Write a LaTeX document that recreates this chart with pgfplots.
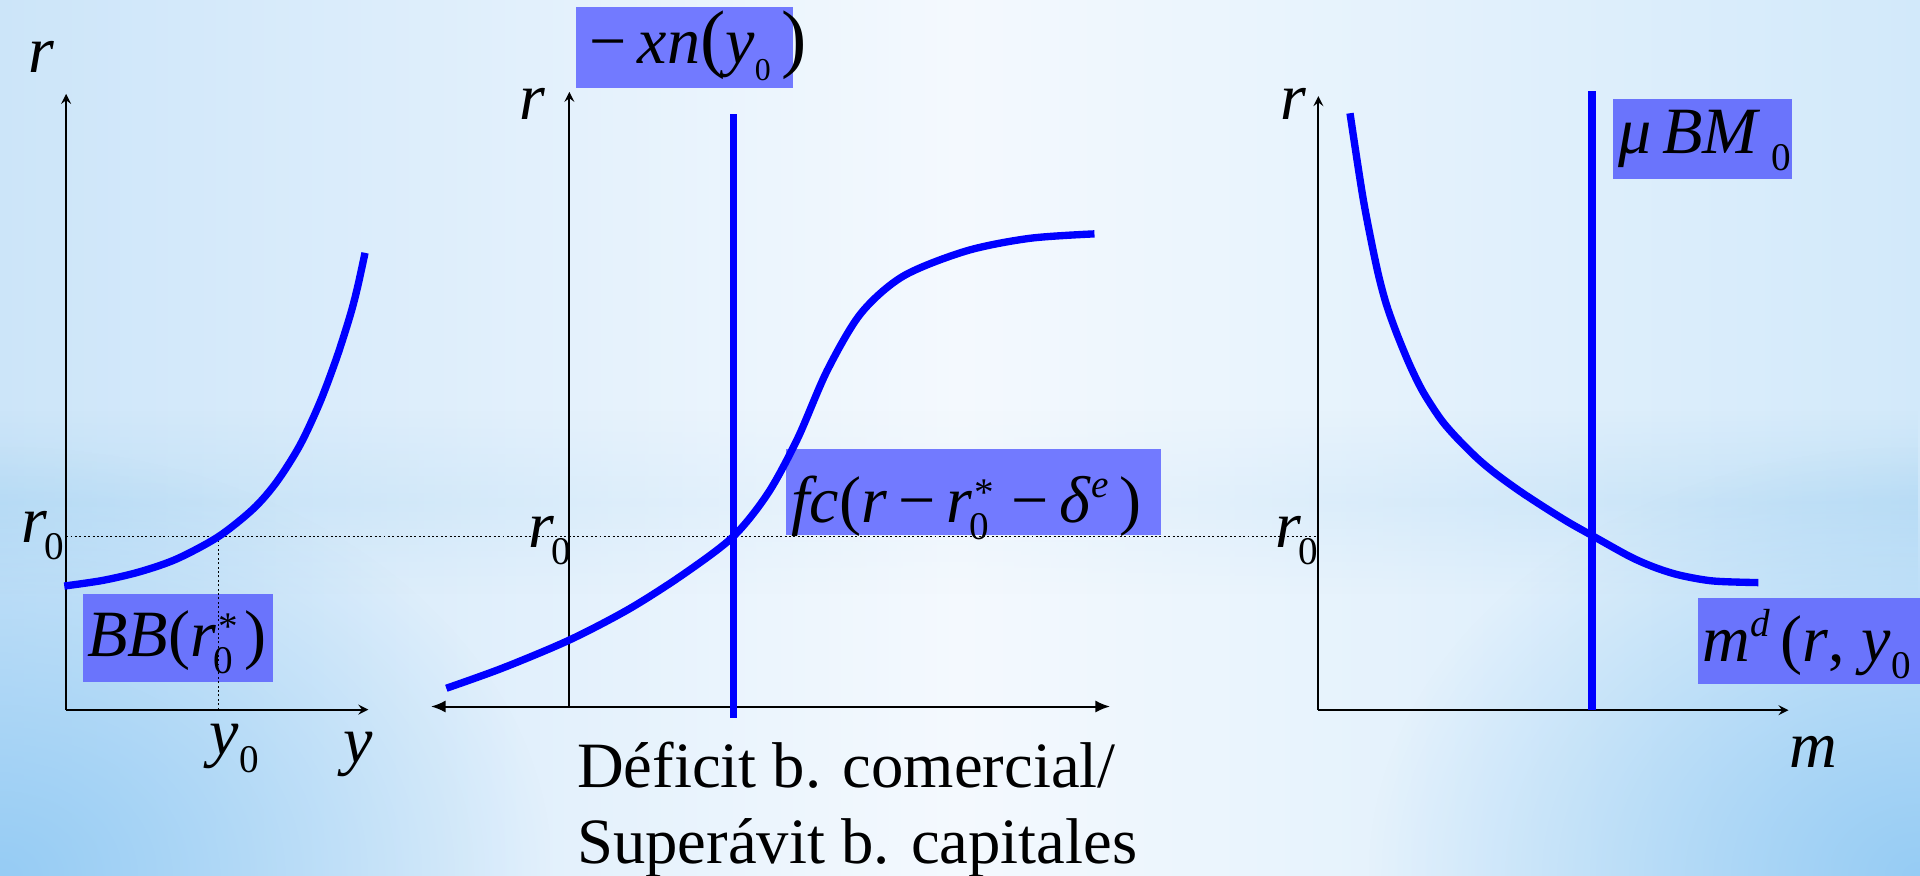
\documentclass[border=0pt]{standalone}
\usepackage{fontspec}
\setmainfont{Liberation Serif}
\usepackage{pgfplots}
\pgfplotsset{compat=1.18}
\usetikzlibrary{arrows.meta,fadings}

\definecolor{boxblue}{RGB}{114,122,255}
\definecolor{boxblueb}{RGB}{106,116,252}
\definecolor{curve}{RGB}{0,0,255}
\definecolor{bgL}{RGB}{204,229,249}
\definecolor{bgM}{RGB}{244,249,254}
\definecolor{bgR}{RGB}{210,233,250}
\definecolor{bgC}{RGB}{150,204,244}
\definecolor{bandL}{RGB}{182,219,245}
\definecolor{bandM}{RGB}{236,245,253}

\tikzfading[name=radfade, inner color=transparent!0, outer color=transparent!100]
\tikzfading[name=vband, top color=transparent!100, bottom color=transparent!100, middle color=transparent!30]

\newcommand{\LS}{\fontsize{27}{30}\selectfont}
\newcommand{\V}[1]{\textit{#1}}
\newcommand{\zs}{\raisebox{-7pt}{\fontsize{16}{16}\selectfont 0}}
\newcommand{\zsm}{\raisebox{-7pt}{\fontsize{13}{13}\selectfont 0}}
\newcommand{\st}{\rlap{\hspace{2pt}\raisebox{7pt}{\fontsize{16}{16}\selectfont *}}}
\newcommand{\spr}[1]{\raisebox{10pt}{\fontsize{16}{16}\selectfont\itshape #1}}
\newcommand{\bp}[1]{{\fontsize{31}{31}\selectfont #1}}

\pgfplotsset{diag/.style={scale only axis, clip=false, xtick=\empty, ytick=\empty,
  anchor=south west, axis line style={line width=0.8pt},
  x axis line style={-{Latex[length=6pt,width=5pt]}},
  y axis line style={-{Latex[length=6pt,width=5pt]}}}}

\begin{document}
\begin{tikzpicture}
\path[use as bounding box] (0,0) rectangle (784pt,357.5pt);
\clip (0,0) rectangle (784pt,357.5pt);
\begin{scope}[x=0.5pt,y=0.5pt]
% background
\shade[left color=bgL, right color=bgR, middle color=bgM] (0,0) rectangle (1568,715);
\shade[left color=bandL, right color=bandL, middle color=bandM, path fading=vband] (0,230) rectangle (1568,380);
\fill[bgC, path fading=radfade] (-450,-350) rectangle (450,350);
\fill[bgC, path fading=radfade] (1118,-350) rectangle (2018,350);
% boxes
\fill[boxblueb] (68,158) rectangle (223,230);
\fill[boxblue] (470,643) rectangle (648,709);
\fill[boxblue] (642,278) rectangle (948,348);
\fill[boxblueb] (1317,569) rectangle (1463.5,634);
\fill[boxblueb] (1386.6,156) rectangle (1640,227);
\end{scope}

% Panel 1
\begin{axis}[diag, at={(27pt,67.75pt)}, width=123.4pt, height=251.4pt,
  xmin=0, xmax=246.8, ymin=0, ymax=502.8, axis lines=left]
\addplot[black, line width=0.6pt, dash pattern=on 0.8pt off 1pt] coordinates {(0,141.5) (1022.7,141.5)};
\addplot[black, line width=0.6pt, dash pattern=on 0.8pt off 1pt] coordinates {(124.6,0) (124.6,141.5)};
\addplot[curve, line width=3pt, smooth] coordinates {(-1.5,100.9) (30,105.5) (60,112.5) (90.3,123) (124.3,141.2) (152.9,164) (172,186) (191,216) (207.3,251) (221,287.5) (232,322) (238,345) (244.1,373)};
\end{axis}

% Panel 2
\begin{axis}[diag, at={(176pt,69pt)}, width=277.25pt, height=251pt,
  xmin=-113, xmax=441.5, ymin=0, ymax=502, axis lines=middle,
  x axis line style={{Latex[length=6pt,width=5pt]}-{Latex[length=6pt,width=5pt]}}]
\addplot[curve, line width=3pt, smooth] coordinates {(-100.5,14.9) (-54.1,31.6) (0.2,54.4) (49,79.8) (93.7,108.4) (134,139) (162.4,174.5) (186.4,218.9) (210.5,274.3) (238,321) (272.5,351.4) (324,372) (375.5,382.3) (428.8,386)};
\addplot[curve, line width=3pt] coordinates {(134,-9) (134,483.5)};
\end{axis}

% Panel 3
\begin{axis}[diag, at={(538.35pt,67.5pt)}, width=191.95pt, height=250.75pt,
  xmin=0, xmax=383.9, ymin=0, ymax=501.5, axis lines=left]
\addplot[curve, line width=3pt, smooth] coordinates {(25.8,487.5) (36.7,416.7) (47.5,362.2) (55,333) (63.9,307.8) (75,281) (85.7,259.5) (100,237.5) (112.9,222.5) (130,205.5) (145.6,192.5) (165,178.5) (186.4,164.5) (205,153) (223.7,142.5) (254.5,125.4) (275,116.5) (295.3,110.2) (322.5,105.5) (359.3,104.2)};
\addplot[curve, line width=3pt] coordinates {(223.5,0) (223.5,505.7)};
\end{axis}

\begin{scope}[x=0.5pt,y=0.5pt, every node/.style={inner sep=0pt, anchor=base west}]
\LS
% panel 1 labels
\node at (23,655.5) {\LS\V{r}};
\node at (17,272) {\LS\V{r}\kern-1pt\zs};
\node at (171,98.5) {\LS\V{y}\zs};
\node at (280,92) {\LS\V{y}};
\node at (71,179) {\LS\V{BB}(\V{r}\kern-1pt\st\zs\,)};
% panel 2 labels
\node at (424,617) {\LS\V{r}};
\node at (431,268) {\LS\V{r}\kern-1pt\zs};
\node at (472,663) {\LS\,−\,\V{xn}\bp{(}\V{y}\zsm\,\bp{)}};
\node at (646,288.5) {\LS\V{fc}(\V{r}\,−\,\V{r}\kern-1pt\st\zs\,\,−\,\V{δ}\spr{e}\,)};
\node at (471,71.5) {\fontsize{26.4}{29}\selectfont Déficit b. comercial/};
\node at (471,10) {\fontsize{26.4}{29}\selectfont Superávit b. capitales};
% panel 3 labels
\node at (1045,617) {\LS\V{r}};
\node at (1041,268) {\LS\V{r}\kern-1pt\zs};
\node at (1461,88) {\LS\V{m}};
\node at (1321,590) {\LS\V{μ}\,\V{BM}\,\zs};
\node at (1390,175) {\LS\V{m}\spr{d}\,(\V{r}, \V{y}\zs\,)};
\end{scope}
\end{tikzpicture}
\end{document}
